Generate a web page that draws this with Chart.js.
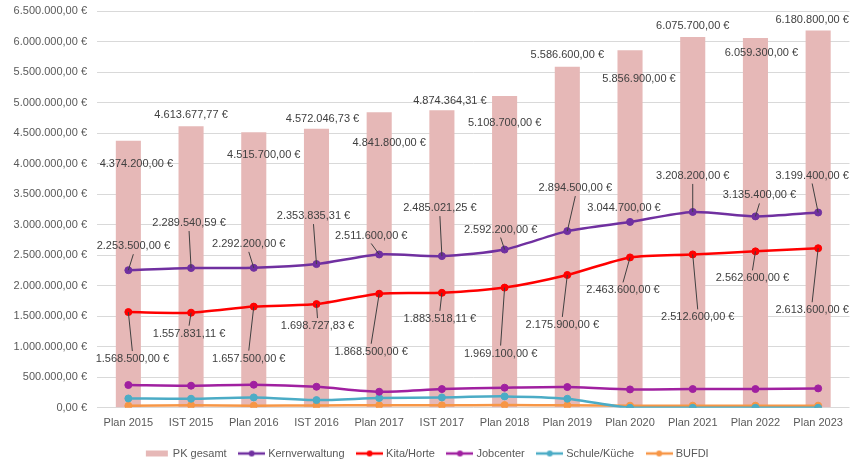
<!DOCTYPE html>
<html lang="de">
<head>
  <meta charset="UTF-8">
  <title>Personalkosten</title>
  <style>
    body { margin: 0; background: #fff; }
    .chartBox { position: relative; width: 854px; height: 460px; }
  </style>
</head>
<body>

  <div class="chartBox">
    <canvas id="myChart"></canvas>
  </div>

<script src="https://cdn.jsdelivr.net/npm/chart.js/dist/chart.umd.min.js"></script>
<script>
  // values
  const categories = ['Plan 2015', 'IST 2015', 'Plan 2016', 'IST 2016', 'Plan 2017', 'IST 2017',
                      'Plan 2018', 'Plan 2019', 'Plan 2020', 'Plan 2021', 'Plan 2022', 'Plan 2023'];
  const pkGesamt = [4374200, 4613677.77, 4515700, 4572046.73, 4841800, 4874364.31,
                    5108700, 5586600, 5856900, 6075700, 6059300, 6180800];
  const kernverwaltung = [2253500, 2289540.59, 2292200, 2353835.31, 2511600, 2485021.25,
                          2592200, 2894500, 3044700, 3208200, 3135400, 3199400];
  const kitaHorte = [1568500, 1557831.11, 1657500, 1698727.83, 1868500, 1883518.11,
                     1969100, 2175900, 2463600, 2512600, 2562600, 2613600];
  const jobcenter = [373000, 362000, 378000, 345000, 263000, 307000, 329000, 340000, 301000, 307000, 307000, 318000];
  const schuleKueche = [153000, 148000, 170000, 126000, 160000, 170000, 187000, 148000, 0, 0, 0, 0];
  const bufdi = [33000, 40000, 35000, 38000, 42000, 40000, 45000, 40000, 35000, 35000, 35000, 35000];
  const yTicks = { min: 0, max: 6500000, step: 500000 };

  // label placement (pixel offsets from the mark), kept apart from the data
  const pkLabelPos = [[8,23],[0,-11],[10,23],[6,-10],[10,31],[8,-9],[0,27],[0,-12],[9,29],[0,-11],[6,15],[-6,-11]];
  const kernLabelPos = [[5,-24],[-2,-45],[-5,-24],[-3,-48],[-8,-19],[-2,-48],[-4,-20],[8,-43],[-6,-14],[0,-36],[4,-21],[-6,-37]];
  const kitaLabelPos = [[4,47],[-2,21],[-5,52],[1,22],[-8,58],[-2,26],[-4,66],[-5,50],[-7,33],[5,63],[-3,27],[-6,62]];

  const FONT = '"Liberation Sans", Arial, sans-serif';

  // 1234567.8 -> "1.234.567,80 €"
  function euro(v) {
    const parts = v.toFixed(2).split('.');
    const int = parts[0].replace(/\B(?=(\d{3})+(?!\d))/g, '.');
    return int + ',' + parts[1] + ' €';
  }

  function lineMarker(color) {
    const c = document.createElement('canvas');
    c.width = 27; c.height = 10;
    const g = c.getContext('2d');
    g.strokeStyle = color; g.lineWidth = 2.5;
    g.beginPath(); g.moveTo(0, 5); g.lineTo(27, 5); g.stroke();
    g.fillStyle = color;
    g.beginPath(); g.arc(13.5, 5, 3, 0, Math.PI * 2); g.fill();
    return c;
  }
  function boxMarker(color) {
    const c = document.createElement('canvas');
    c.width = 27; c.height = 10;
    const g = c.getContext('2d');
    g.fillStyle = color;
    g.fillRect(3, 2, 22, 6);
    return c;
  }

  const lineDs = (label, data, color, pos) => ({
    type: 'line', label, data, order: 0,
    borderColor: color, backgroundColor: color,
    borderWidth: 2.5, pointRadius: 3.5, pointHoverRadius: 3.5, pointBorderWidth: 1,
    tension: 0.25, labelPos: pos
  });

  const data = {
    labels: categories,
    datasets: [
      { type: 'bar', label: 'PK gesamt', data: pkGesamt, order: 1,
        backgroundColor: '#e6b8b7', barPercentage: 0.4, categoryPercentage: 1, labelPos: pkLabelPos },
      lineDs('Kernverwaltung', kernverwaltung, '#7030a0', kernLabelPos),
      lineDs('Kita/Horte', kitaHorte, '#ff0000', kitaLabelPos),
      lineDs('Jobcenter', jobcenter, '#a020a0', null),
      lineDs('Schule/Küche', schuleKueche, '#4bacc6', null),
      lineDs('BUFDI', bufdi, '#f79646', null)
    ]
  };

  const markers = [boxMarker('#e6b8b7'), lineMarker('#7030a0'), lineMarker('#ff0000'),
                   lineMarker('#a020a0'), lineMarker('#4bacc6'), lineMarker('#f79646')];

  // data labels with leader lines (Excel style)
  const valueLabels = {
    id: 'valueLabels',
    afterDatasetsDraw(chart) {
      const ctx = chart.ctx;
      ctx.save();
      ctx.font = '11px ' + FONT;
      ctx.textAlign = 'center';
      ctx.textBaseline = 'middle';
      chart.data.datasets.forEach((ds, di) => {
        if (!ds.labelPos) return;
        chart.getDatasetMeta(di).data.forEach((el, i) => {
          const [dx, dy] = ds.labelPos[i];
          const lx = el.x + dx, ly = el.y + dy;
          if (ds.type === 'line' && Math.abs(dy) > 14) {
            ctx.strokeStyle = '#404040';
            ctx.lineWidth = 1;
            ctx.beginPath();
            ctx.moveTo(el.x, el.y);
            ctx.lineTo(lx, ly - Math.sign(dy) * 8);
            ctx.stroke();
          }
          ctx.fillStyle = '#404040';
          ctx.fillText(euro(ds.data[i]), lx, ly);
        });
      });
      ctx.restore();
    }
  };

  // pull the legend a bit closer to the bottom edge
  const legendNudge = {
    id: 'legendNudge',
    beforeInit(chart) {
      const fit = chart.legend.fit;
      chart.legend.fit = function () {
        fit.call(this);
        this.height -= 10;
      };
    }
  };

  const config = {
    data,
    options: {
      responsive: false,
      animation: false,
      layout: { padding: { top: 0, right: 0, left: 0, bottom: 1 } },
      scales: {
        x: {
          afterFit: (scale) => { scale.height -= 5; },
          grid: { display: false, drawTicks: false },
          border: { display: false },
          ticks: { color: '#595959', font: { size: 11, family: FONT }, maxRotation: 0, autoSkip: false, padding: 9 }
        },
        y: {
          min: yTicks.min, max: yTicks.max,
          afterFit: (scale) => { scale.width = 97; scale.paddingTop = 11; scale.paddingBottom = 0; },
          grid: { color: '#d9d9d9', drawTicks: false },
          border: { display: false },
          ticks: {
            stepSize: yTicks.step, padding: 10,
            color: '#595959', font: { size: 11, family: FONT },
            callback: (v) => euro(v)
          }
        }
      },
      plugins: {
        tooltip: { enabled: false },
        legend: {
          position: 'bottom',
          labels: {
            usePointStyle: true, pointStyleWidth: 22, padding: 14,
            color: '#595959', font: { size: 11, family: FONT },
            sort: (a, b) => a.datasetIndex - b.datasetIndex,
            generateLabels(chart) {
              const items = Chart.defaults.plugins.legend.labels.generateLabels(chart);
              items.forEach((it) => { it.pointStyle = markers[it.datasetIndex]; });
              return items;
            }
          }
        }
      }
    },
    plugins: [legendNudge, valueLabels]
  };

  const canvas = document.getElementById('myChart');
  canvas.width = 854;
  canvas.height = 460;
  const myChart = new Chart(canvas, config);
</script>
</body>
</html>
